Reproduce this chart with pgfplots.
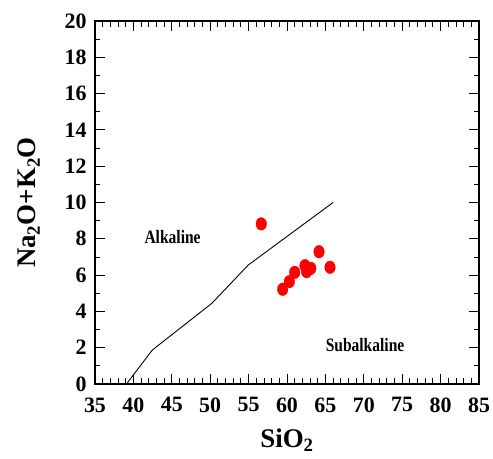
\documentclass[border=0pt]{standalone}
\usepackage{pgfplots}
\pgfplotsset{compat=1.18}
\usepackage{fontspec}
\setmainfont{Liberation Serif}
\newfontfamily\condfont[FakeStretch=0.82]{Liberation Serif}
\begin{document}
\begin{tikzpicture}
\useasboundingbox (-95bp,-75bp) rectangle (398bp,384bp);
\begin{axis}[
  scale only axis, width=384bp, height=363bp,
  xmin=35, xmax=85, ymin=0, ymax=20,
  xtick={35,40,...,85}, ytick={0,2,...,20},
  minor x tick num=4, minor y tick num=1,
  tick align=inside, major tick length=10bp, minor tick length=5.5bp,
  axis line style={line width=1.2bp},
  every tick/.style={black, line width=0.9bp},
  tick label style={font=\fontsize{22}{22}\selectfont\bfseries},
  xticklabel={\pgfmathprintnumber[assume math mode=true]{\tick}},
  yticklabel={\pgfmathprintnumber[assume math mode=true]{\tick}},
  xticklabel style={yshift=-10bp},
  yticklabel style={xshift=-5bp},
  xlabel={SiO\textsubscript{2}},
  ylabel={Na\textsubscript{2}O+K\textsubscript{2}O},
  label style={font=\fontsize{27}{27}\selectfont\bfseries},
  xlabel style={at={(axis description cs:0.5,-0.155)}, anchor=center},
  ylabel style={at={(axis description cs:-0.172,0.5)}, anchor=center},
]
\addplot[black, line width=0.9bp] coordinates {
  (39.1,0) (42.46,1.87) (50.2,4.44) (54.97,6.56) (66,10)
};
\addplot[only marks, mark=*, mark size=6.3bp, color=red, mark options={xscale=0.84, fill=red, draw=red}] coordinates {
  (56.65,8.82) (59.44,5.22) (60.3,5.64) (61.0,6.15) (62.34,6.52)
  (62.56,6.19) (63.1,6.37) (64.17,7.29) (65.6,6.43)
};
\node[font=\condfont\fontsize{19}{19}\selectfont\bfseries] at (axis cs:45.1,8.11) {Alkaline};
\node[font=\condfont\fontsize{19}{19}\selectfont\bfseries] at (axis cs:70.16,2.15) {Subalkaline};
\end{axis}
\end{tikzpicture}
\end{document}
